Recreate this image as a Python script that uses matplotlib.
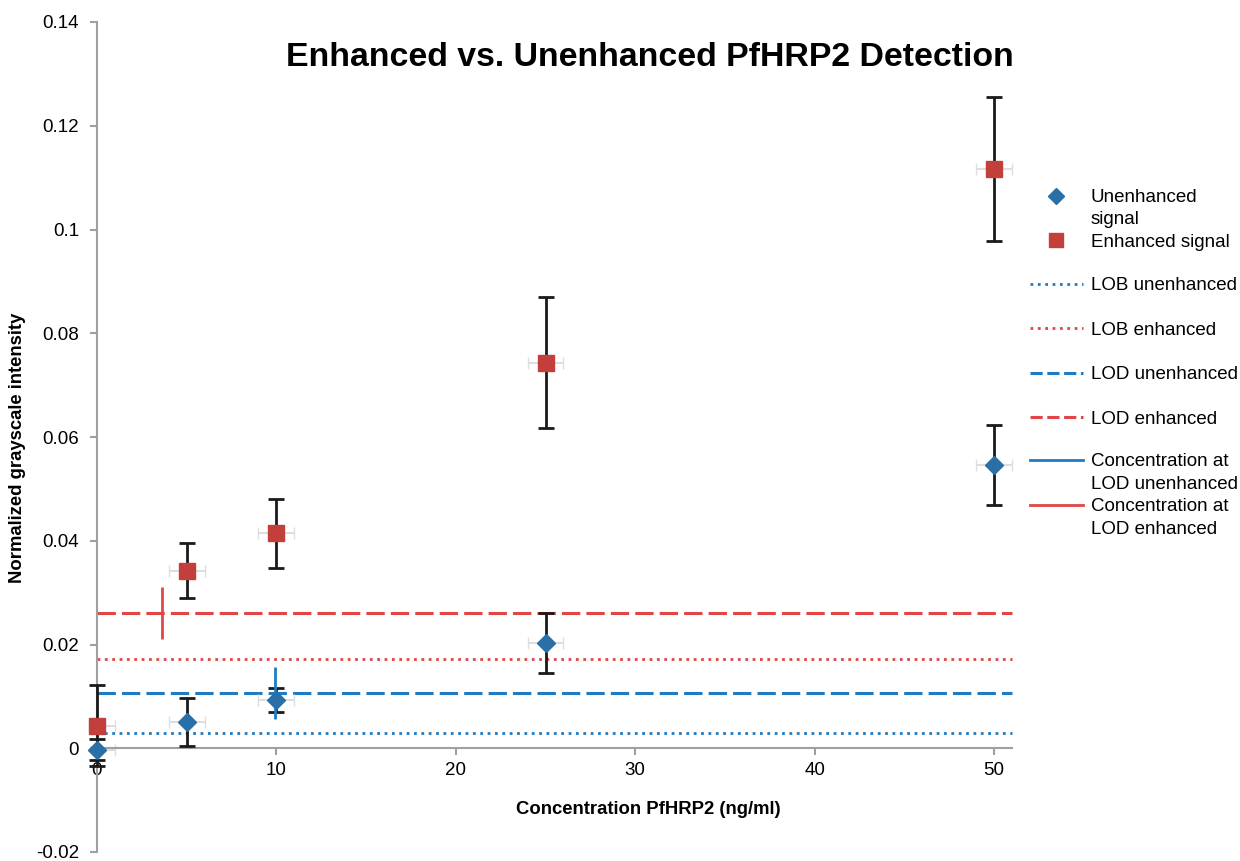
import numpy as np
import matplotlib
matplotlib.use("Agg")
import matplotlib.pyplot as plt
from matplotlib.lines import Line2D
from matplotlib.ticker import FuncFormatter

plt.rcParams['font.family'] = ['Liberation Sans', 'DejaVu Sans']

# data
conc = [0, 5, 10, 25, 50]
conc_err_lo = [0, 1, 1, 1, 1]
conc_err_hi = [1, 1, 1, 1, 1]
unenh = [-0.0003, 0.0050, 0.0093, 0.0203, 0.0546]
unenh_err = [0.0020, 0.0046, 0.0024, 0.0057, 0.0078]
enh = [0.0043, 0.0342, 0.0414, 0.0743, 0.1116]
enh_err = [0.0078, 0.0053, 0.0066, 0.0126, 0.0139]

lob_unenh = 0.0029
lob_enh = 0.0173
lod_unenh = 0.0107
lod_enh = 0.0260
conc_lod_unenh = 9.9
conc_lod_enh = 3.63
lod_bar_half = 0.005

blue_mk = '#2a6fa6'
red_mk = '#c23f3b'
blue_ln = '#1f7cc4'
red_ln = '#e04646'
grey = '#a0a0a0'

fig = plt.figure(figsize=(12.4, 8.61), dpi=100)
ax = fig.add_axes([97/1240, 9/861, 915/1240, 830/861])

x0, x1 = 0, 51
ax.plot([x0, x1], [lob_unenh, lob_unenh], ':', color=blue_ln, lw=2, clip_on=False)
ax.plot([x0, x1], [lob_enh, lob_enh], ':', color=red_ln, lw=2, clip_on=False)
ax.plot([x0, x1], [lod_unenh, lod_unenh], color=blue_ln, lw=2.2, dashes=(6, 2), clip_on=False)
ax.plot([x0, x1], [lod_enh, lod_enh], color=red_ln, lw=2.2, dashes=(6, 2), clip_on=False)
ax.vlines(conc_lod_unenh, lod_unenh - lod_bar_half, lod_unenh + lod_bar_half, color=blue_ln, lw=2, zorder=4)
ax.vlines(conc_lod_enh, lod_enh - lod_bar_half, lod_enh + lod_bar_half, color=red_ln, lw=2, zorder=4)

# horizontal error bars (light) then vertical ones (black)
for yv in (unenh, enh):
    ax.errorbar(conc, yv, xerr=[conc_err_lo, conc_err_hi], fmt='none', ecolor='#dedede',
                elinewidth=1.5, capsize=4, clip_on=False, zorder=2)
ax.errorbar(conc, unenh, yerr=unenh_err, fmt='none', ecolor='#1a1a1a', elinewidth=2,
            capsize=6, capthick=2, clip_on=False, zorder=3)
ax.errorbar(conc, enh, yerr=enh_err, fmt='none', ecolor='#1a1a1a', elinewidth=2,
            capsize=6, capthick=2, clip_on=False, zorder=3)
ax.plot(conc, unenh, 'D', color=blue_mk, ms=9, mec=blue_mk, clip_on=False, zorder=5)
ax.plot(conc, enh, 's', color=red_mk, ms=11.5, mec=red_mk, clip_on=False, zorder=5)

ax.set_xlim(x0, x1)
ax.set_ylim(-0.02, 0.14)
ax.set_xticks(np.arange(0, 51, 10))
ax.set_yticks(np.arange(-0.02, 0.1401, 0.02))
ax.yaxis.set_major_formatter(FuncFormatter(lambda v, p: '{:g}'.format(round(v, 2))))
ax.spines['top'].set_visible(False)
ax.spines['right'].set_visible(False)
ax.spines['bottom'].set_position(('data', 0))
for s in ('left', 'bottom'):
    ax.spines[s].set_color(grey)
    ax.spines[s].set_linewidth(1.5)
ax.tick_params(axis='both', colors=grey, labelcolor='black', labelsize=13.5, length=5, width=1.5)
ax.tick_params(axis='x', pad=5)
ax.tick_params(axis='y', pad=8)

fig.text(650/1240, 1 - 57/861, 'Enhanced vs. Unenhanced PfHRP2 Detection',
         ha='center', va='center', fontsize=24.4, fontweight='bold')
fig.text(648/1240, 1 - 810/861, 'Concentration PfHRP2 (ng/ml)',
         ha='center', va='center', fontsize=13.3, fontweight='bold')
fig.text(18/1240, 1 - 448/861, 'Normalized grayscale intensity', rotation=90,
         ha='center', va='center', fontsize=13.3, fontweight='bold')

# legend in three blocks to mimic spacing
lfs = 13.5
common = dict(frameon=False, fontsize=lfs, borderpad=0, handlelength=2.8,
              handletextpad=0.45, borderaxespad=0, loc='upper left')
blank = Line2D([], [], ls='none')
h1 = [Line2D([], [], ls='none', marker='D', color=blue_mk, ms=8), blank,
      Line2D([], [], ls='none', marker='s', color=red_mk, ms=10)]
leg1 = fig.legend(h1, ['Unenhanced', 'signal', 'Enhanced signal'], labelspacing=0.28,
                  bbox_to_anchor=(1030/1240, 1 - 189/861), **common)
h2 = [Line2D([], [], ls=':', color=blue_ln, lw=2),
      Line2D([], [], ls=':', color=red_ln, lw=2),
      Line2D([], [], color=blue_ln, lw=2.2, dashes=(4, 1.5)),
      Line2D([], [], color=red_ln, lw=2.2, dashes=(4, 1.5))]
leg2 = fig.legend(h2, ['LOB unenhanced', 'LOB enhanced', 'LOD unenhanced', 'LOD enhanced'],
                  labelspacing=1.46, bbox_to_anchor=(1030/1240, 1 - 277/861), **common)
h3 = [Line2D([], [], color=blue_ln, lw=2), blank,
      Line2D([], [], color=red_ln, lw=2), blank]
leg3 = fig.legend(h3, ['Concentration at', 'LOD unenhanced', 'Concentration at', 'LOD enhanced'],
                  labelspacing=0.29, bbox_to_anchor=(1030/1240, 1 - 453/861), **common)

fig.savefig('out.png', dpi=100)
